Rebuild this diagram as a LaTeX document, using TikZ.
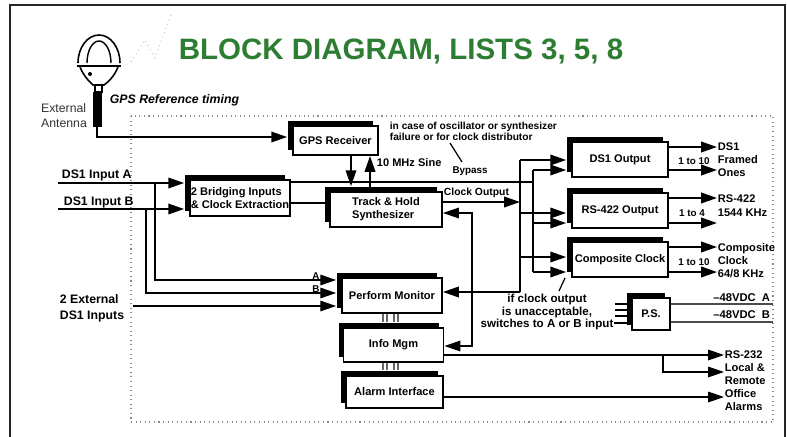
\documentclass[tikz,border=0pt]{standalone}
\usepackage{fontspec}
\setmainfont{Liberation Sans}
\usetikzlibrary{arrows.meta,shadows}
\definecolor{titlegreen}{RGB}{45,125,50}
\tikzstyle{block}=[draw,line width=1.1pt,fill=white,inner sep=0pt,align=center,font=\fontsize{6.3}{7.4}\selectfont\bfseries,drop shadow={fill=black,opacity=1,shadow xshift=-2.6pt,shadow yshift=2.6pt}]
\tikzstyle{lbl}=[inner sep=0pt,align=left,font=\fontsize{6.3}{7.4}\selectfont\bfseries]

\begin{document}
\begin{tikzpicture}[x=0.02cm,y=-0.02cm,line width=1pt,>={Triangle[length=9pt,width=6pt]}]
    \tikzstyle{into}=[->,shorten >=2.8pt]
    \tikzstyle{fine}=[line width=0.7pt]
    \tikzstyle{bus}=[draw=black!60,double=white,double distance=1.5pt,line width=0.9pt]
    \useasboundingbox (0,0) rectangle (787,436);
    \draw[line width=1.4pt,black!85] (10,440) -- (10,5) -- (785,5) -- (785,440);
    \draw[black!45,dotted,line width=0.6pt] (131,116) rectangle (773,422);
    \draw[black!20,dotted,line width=0.6pt] (131,62) -- (145,40) -- (155,58) -- (172,12);
    \node[font=\fontsize{16.8}{20}\selectfont\bfseries,text=titlegreen] (title) at (401,51) {BLOCK DIAGRAM, LISTS 3, 5, 8};
    % antenna
    \draw[line width=0.9pt] (78,63) arc[start angle=180,end angle=360,x radius=21,y radius=28];
    \draw[line width=0.8pt] (87,63) arc[start angle=180,end angle=360,x radius=12,y radius=22];
    \draw[line width=1.6pt] (77,66) -- (121,66);
    \draw[line width=0.9pt] (80,67) .. controls (84,77) and (90,82) .. (93,85) -- (104,85) .. controls (108,82) and (114,77) .. (118,67);
    \fill (90,74) circle[radius=2];
    \draw[line width=0.6pt] (95,85) rectangle (102,92);
    \fill (93,92) rectangle (102,127);
    \coordinate (ant) at (97,127);
    \node[inner sep=0pt,align=left,text=black!80,font=\fontsize{7}{8.5}\selectfont] (antlbl) at (64,115.5) {External\\Antenna};
    \node[inner sep=0pt,anchor=west,font=\fontsize{7}{8.5}\selectfont\bfseries\itshape] (gpsref) at (109,100) {GPS Reference timing};
    % blocks
    \node[block,minimum width=1.7cm,minimum height=0.58cm] (gps) at (335.5,140.5) {GPS Receiver};
    \node[block,align=left,minimum width=2cm,minimum height=0.72cm] (brg) at (240,198) {2 Bridging Inputs\\\& Clock Extraction};
    \node[block,align=left,minimum width=2.24cm,minimum height=0.7cm] (trk) at (386,209.5) {Track \& Hold\\Synthesizer};
    \node[block,minimum width=2cm,minimum height=0.7cm] (pm) at (392,295.5) {Perform Monitor};
    \node[block,minimum width=2cm,minimum height=0.68cm] (info) at (393.5,345) {Info Mgm};
    \node[block,minimum width=1.94cm,minimum height=0.64cm] (alm) at (394.5,392) {Alarm Interface};
    \node[block,minimum width=1.92cm,minimum height=0.7cm] (ds1) at (620,159.5) {DS1 Output};
    \node[block,minimum width=1.92cm,minimum height=0.7cm] (rs) at (620,210.5) {RS-422 Output};
    \node[block,minimum width=1.92cm,minimum height=0.7cm] (cc) at (620,259.5) {Composite Clock};
    \node[block,minimum width=0.76cm,minimum height=0.64cm] (ps) at (651,314) {P.S.};
    % labels
    \node[lbl,anchor=west,font=\fontsize{7}{8.5}\selectfont\bfseries] (dsA) at (61,175) {DS1 Input A};
    \node[lbl,anchor=west,font=\fontsize{7}{8.5}\selectfont\bfseries] (dsB) at (63,202) {DS1 Input B};
    \node[lbl,anchor=west,font=\fontsize{7}{9}\selectfont\bfseries] (ext) at (59,308) {2 External\\DS1 Inputs};
    \node[lbl,anchor=north west,font=\fontsize{5.8}{6.4}\selectfont\bfseries] (why) at (389,121) {in case of oscillator or synthesizer\\failure or for clock distributor};
    \node[lbl,font=\fontsize{5.6}{6.4}\selectfont\bfseries] (byp) at (470,171) {Bypass};
    \node[lbl,anchor=west] (sine) at (376,163) {10 MHz Sine};
    \node[lbl,anchor=west,font=\fontsize{5.9}{7}\selectfont\bfseries] (clk) at (443,193) {Clock Output};
    \node[lbl,font=\fontsize{5.6}{7}\selectfont\bfseries] (lA) at (316,276) {A};
    \node[lbl,font=\fontsize{5.6}{7}\selectfont\bfseries] (lB) at (316,289) {B};
    \node[lbl,anchor=west] (ds1txt) at (717,160) {DS1\\Framed\\Ones};
    \node[lbl,anchor=west,font=\fontsize{6.3}{7.9}\selectfont\bfseries] (rstxt) at (717,206) {RS-422\\1544 KHz};
    \node[lbl,anchor=west] (cctxt) at (717,261) {Composite\\Clock\\64/8 KHz};
    \node[lbl,anchor=west] (offtxt) at (724,381) {RS-232\\Local \&\\Remote\\Office\\Alarms};
    \node[lbl,font=\fontsize{5.6}{7}\selectfont\bfseries] (n1) at (694,161) {1 to 10};
    \node[lbl,font=\fontsize{5.6}{7}\selectfont\bfseries] (n2) at (692,213) {1 to 4};
    \node[lbl,font=\fontsize{5.6}{7}\selectfont\bfseries] (n3) at (694,262) {1 to 10};
    \node[lbl,align=center,font=\fontsize{6.6}{6.9}\selectfont\bfseries] (note) at (547,312) {if clock output\\is unacceptable,\\switches to A or B input};
    \node[lbl,anchor=east,font=\fontsize{6.4}{7}\selectfont\bfseries] (vA) at (771,298) {--48VDC\ \ A};
    \node[lbl,anchor=east,font=\fontsize{6.4}{7}\selectfont\bfseries] (vB) at (771,315) {--48VDC\ \ B};
    % junctions
    \coordinate (inA) at (58,183);
    \coordinate (inB) at (58,209);
    \coordinate (inX) at (133,306);
    \coordinate (tapA) at (155,183);
    \coordinate (tapB) at (146,209);
    \coordinate (t1a) at (520,160);
    \coordinate (t1b) at (520,292);
    \coordinate (t2a) at (533,170);
    \coordinate (t2b) at (533,272);
    \coordinate (fb) at (472,213);
    \coordinate (tee) at (663,355);
    \coordinate (endA) at (773,304);
    \coordinate (endB) at (773,322);
    % connectors
    \draw[into] (ant) |- (gps.west |- 0,137);
    \draw[into] (inA) -- (brg.west |- inA);
    \draw[into] (inB) -- (brg.west |- inB);
    \draw (brg.east |- 0,203) -- (trk.west |- 0,203);
    \draw (brg.north east |- 0,182) -- (t2a |- 0,182);
    \draw[into] (gps.south -| 351,0) -- (trk.north -| 351,0);
    \draw[->] (trk.north -| 370,0) -- (gps.south -| 370,0);
    \draw[->] (trk.east |- 0,202) -- (t1a |- 0,202);
    \draw (t1a) -- (t1b);
    \draw[->] (t1b) -- (pm.east |- t1b);
    \draw[into] (t1a) -- (ds1.west |- t1a);
    \draw[into] (t1a |- 0,213) -- (rs.west |- 0,213);
    \draw[into] (t1a |- 0,257) -- (cc.west |- 0,257);
    \draw (t2a) -- (t2b);
    \draw[into] (t2a) -- (ds1.west |- t2a);
    \draw[into] (t2a |- 0,223) -- (rs.west |- 0,223);
    \draw[into] (t2b) -- (cc.west |- t2b);
    \draw[fine,<->] (trk.east |- fb) -- (fb) |- (info.east |- 0,346);
    \draw[->] (ds1.east |- 0,147) -- (ds1txt.west |- 0,147);
    \draw[->] (ds1.east |- 0,170) -- (ds1txt.west |- 0,170);
    \draw[->] (rs.east |- 0,198) -- (rstxt.west |- 0,198);
    \draw[->] (rs.east |- 0,223) -- (rstxt.west |- 0,223);
    \draw[->] (cc.east |- 0,247) -- (cctxt.west |- 0,247);
    \draw[->] (cc.east |- 0,272) -- (cctxt.west |- 0,272);
    \draw[fine,into] (tapA) |- (pm.west |- 0,280);
    \draw[fine,into] (tapB) |- (pm.west |- 0,293);
    \draw[fine,into] (inX) -- (pm.west |- inX);
    \draw[bus,shorten >=2.8pt] (pm.south -| 385,0) -- (info.north -| 385,0);
    \draw[bus,shorten >=2.8pt] (pm.south -| 396,0) -- (info.north -| 396,0);
    \draw[bus,shorten >=2.8pt] (info.south -| 385,0) -- (alm.north -| 385,0);
    \draw[bus,shorten >=2.8pt] (info.south -| 396,0) -- (alm.north -| 396,0);
    \draw[fine,->] (info.east |- tee) -- (offtxt.west |- tee);
    \draw[fine,->] (tee) |- (offtxt.west |- 0,372);
    \draw[fine,->] (alm.east |- 0,397) -- (offtxt.west |- 0,397);
    \draw[fine,black!70] (ps.east |- endA) -- (endA);
    \draw[fine,black!70] (ps.east |- endB) -- (endB);
    \draw[line width=0.6pt] (615,304) -- (ps.west |- 0,304);
    \draw[line width=0.6pt] (615,310) -- (ps.west |- 0,310);
    \draw[line width=0.6pt] (615,316) -- (ps.west |- 0,316);
    \draw[line width=0.6pt] (note.east |- 0,323) -- (ps.west |- 0,323);
    \draw[fine] (559,291) -- (565,278);
    \draw[fine] (450,143) -- (462,162);
\end{tikzpicture}
\end{document}
